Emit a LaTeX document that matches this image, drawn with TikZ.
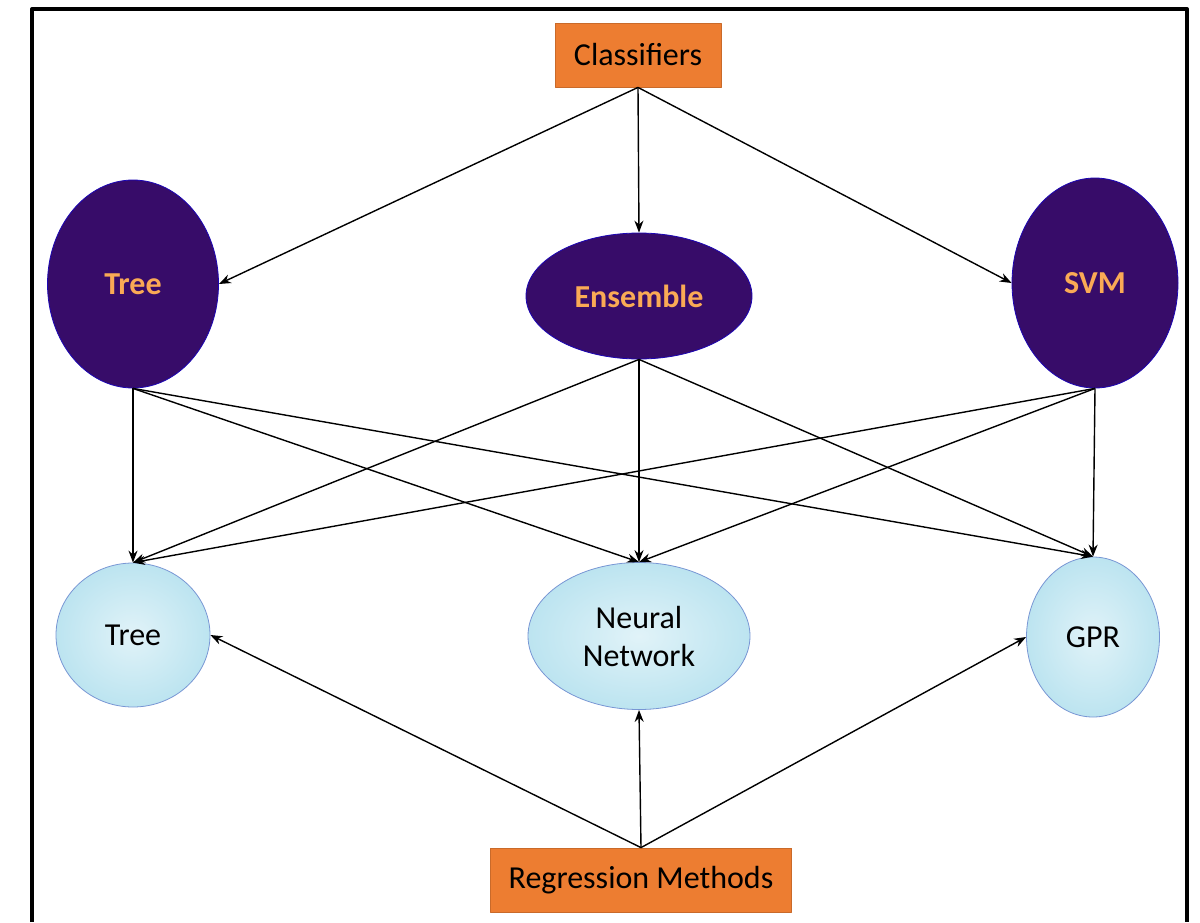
\documentclass[tikz,border=0pt]{standalone}
\usepackage{fontspec}
\setmainfont{Carlito}
\usetikzlibrary{arrows.meta,shapes.geometric,positioning,calc}

\definecolor{boxorange}{RGB}{237,125,49}
\definecolor{deeppurple}{RGB}{55,12,105}
\definecolor{wateryblue}{RGB}{188,228,240}
\definecolor{glow}{RGB}{250,170,85}

\begin{document}
\begin{tikzpicture}[x=0.5pt, y=-0.5pt, line join=round,
  catbox/.style={draw=boxorange!85!black, fill=boxorange, minimum height=32pt, inner sep=0pt, font=\fontsize{16}{19}\selectfont},
  darkoval/.style={ellipse, draw=blue!50!deeppurple, fill=deeppurple, inner sep=0pt, text=glow, font=\bfseries\fontsize{16}{19}\selectfont},
  wateroval/.style={ellipse, draw=cyan!40!blue!55, inner color=wateryblue!45, outer color=wateryblue, inner sep=0pt, align=center, font=\fontsize{16}{19}\selectfont},
  link/.style={-{Stealth[length=6pt,width=4.5pt]}, line width=0.7pt}]
\useasboundingbox (0,0) rectangle (1200,922);
\draw[line width=2pt] (32,922) -- (32,9) -- (1187,9) -- (1187,922);

% top and bottom boxes
\node[catbox, minimum width=83pt]    (cls) at (638,55)  {Classifiers};
\node[catbox, minimum width=150.5pt] (reg) at (641,880) {Regression Methods};

% classifiers
\node[darkoval, minimum width=85.5pt, minimum height=104pt] (treeC) at (133,284)  {Tree};
\node[darkoval, minimum width=113pt,  minimum height=63pt]  (ens)   at (639,296)  {Ensemble};
\node[darkoval, minimum width=83pt,   minimum height=105pt] (svm)   at (1095,283) {SVM};

% regression methods
\node[wateroval, minimum width=77pt,  minimum height=72pt]   (treeR) at (133,635)  {Tree};
\node[wateroval, minimum width=111pt, minimum height=73.5pt] (nn)    at (639,636)  {Neural\\Network};
\node[wateroval, minimum width=66.5pt,minimum height=80pt]   (gpr)   at (1093,637) {GPR};

\draw[link] (cls.south) -- (treeC.east);
\draw[link] (cls.south) -- (ens.north);
\draw[link] (cls.south) -- (svm.west);

\foreach \src in {treeC,ens,svm}
  \foreach \dst in {treeR,nn,gpr}
    \draw[link] (\src.south) -- (\dst.north);

\draw[link] (reg.north) -- (treeR.east);
\draw[link] (reg.north) -- (nn.south);
\draw[link] (reg.north) -- (gpr.west);
\end{tikzpicture}
\end{document}
